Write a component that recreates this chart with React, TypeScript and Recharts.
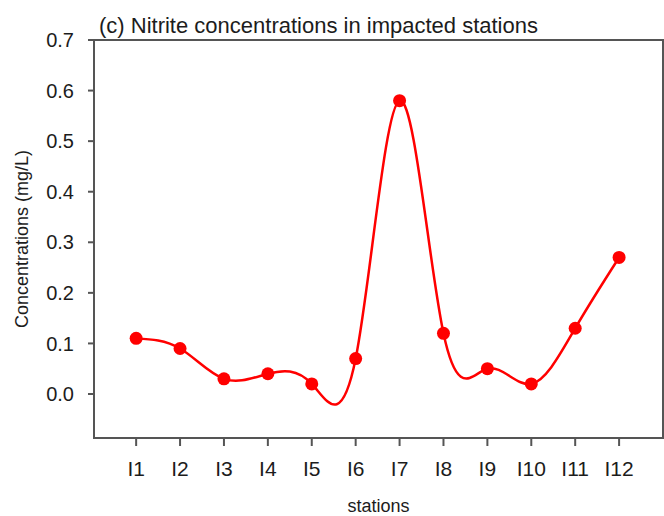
import React from "react";
import { LineChart, Line, XAxis, YAxis, ReferenceArea } from "recharts";

const stations = ["I1", "I2", "I3", "I4", "I5", "I6", "I7", "I8", "I9", "I10", "I11", "I12"];
const nitrite = [0.11, 0.09, 0.03, 0.04, 0.02, 0.07, 0.58, 0.12, 0.05, 0.02, 0.13, 0.27];
const yTicks = [0, 0.1, 0.2, 0.3, 0.4, 0.5, 0.6, 0.7];
const xTicks = stations.map((_, i) => i + 1);
const title = "(c) Nitrite concentrations in impacted stations";
const xLabel = "stations";
const yLabel = "Concentrations (mg/L)";

const data = stations.map((s, i) => ({ x: i + 1, station: s, value: nitrite[i] }));

const FONT = "Arial, 'Liberation Sans', sans-serif";
const TEXT = "#1c1c1c";
const AXIS = "#555";

const TitleLabel = (props: any) => {
  const vb = props.viewBox || {};
  return (
    <text x={vb.x + 5} y={vb.y - 7} fontFamily={FONT} fontSize={22} fill={TEXT}>
      {title}
    </text>
  );
};

const YLabel = (props: any) => {
  const vb = props.viewBox || {};
  const cy = vb.y + vb.height / 2;
  const x = 28;
  return (
    <text x={x} y={cy} transform={`rotate(-90, ${x}, ${cy})`} textAnchor="middle" fontFamily={FONT} fontSize={18} fill={TEXT}>
      {yLabel}
    </text>
  );
};

const XLabel = (props: any) => {
  const vb = props.viewBox || {};
  return (
    <text x={vb.x + vb.width / 2} y={512} textAnchor="middle" fontFamily={FONT} fontSize={18} fill={TEXT}>
      {xLabel}
    </text>
  );
};

export default function App() {
  return (
    <div style={{ position: "absolute", left: 0, top: 0, background: "#fff" }}>
      <LineChart width={664} height={516} data={data} margin={{ top: 40, right: 1, bottom: 0, left: 0 }}>
        <XAxis
          dataKey="x"
          type="number"
          domain={[0.04, 13]}
          ticks={xTicks}
          tickFormatter={(v: number) => stations[v - 1]}
          height={78}
          tickSize={8}
          tickMargin={15}
          axisLine={{ stroke: AXIS, strokeWidth: 2 }}
          tickLine={{ stroke: AXIS, strokeWidth: 2 }}
          tick={{ fontSize: 21, fontFamily: FONT, fill: TEXT }}
          allowDataOverflow
          label={<XLabel />}
        />
        <YAxis
          type="number"
          domain={[-0.087, 0.7]}
          ticks={yTicks}
          tickFormatter={(v: number) => v.toFixed(1)}
          width={94}
          tickSize={6}
          tickMargin={14}
          axisLine={{ stroke: AXIS, strokeWidth: 2 }}
          tickLine={{ stroke: AXIS, strokeWidth: 2 }}
          tick={{ fontSize: 20, fontFamily: FONT, fill: TEXT }}
          allowDataOverflow
          label={<YLabel />}
        />
        <ReferenceArea
          x1={0.04}
          x2={13}
          y1={-0.087}
          y2={0.7}
          fill="none"
          fillOpacity={0}
          stroke={AXIS}
          strokeWidth={2}
          label={<TitleLabel />}
        />
        <Line
          dataKey="value"
          type="natural"
          stroke="#ff0000"
          strokeWidth={2.5}
          dot={{ r: 6.5, fill: "#ff0000", stroke: "#ff0000", strokeWidth: 0 }}
          activeDot={false}
          isAnimationActive={false}
        />
      </LineChart>
    </div>
  );
}
